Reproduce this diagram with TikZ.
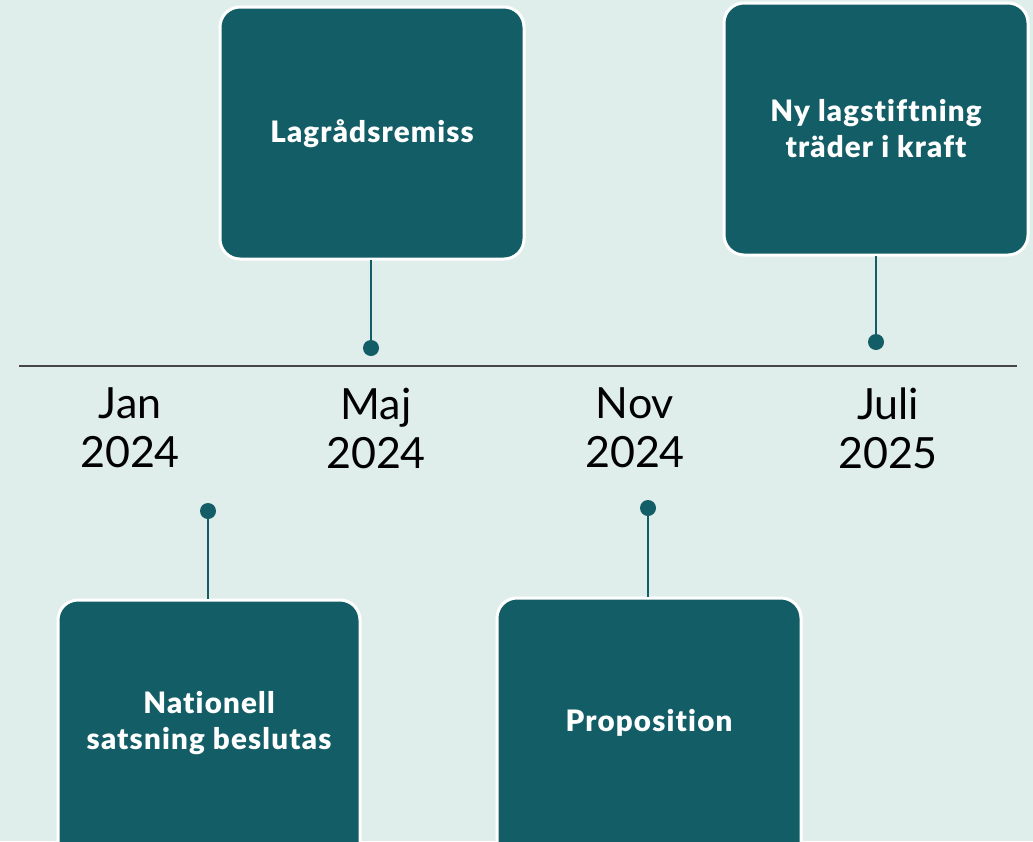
\documentclass[tikz,border=0pt]{standalone}
\usepackage{fontspec}
\setmainfont{Lato}
\newfontfamily\heavyfont{Lato Black}[Ligatures=NoCommon,LetterSpace=4]
\definecolor{bg}{RGB}{223,238,235}
\definecolor{teal}{RGB}{19,94,102}
\definecolor{axis}{RGB}{70,70,70}
\begin{document}
\begin{tikzpicture}[x=1pt,y=-1pt,
  evbox/.style={draw=white,line width=3pt,fill=teal,rounded corners=20pt},
  evtext/.style={text=white,font=\fontsize{29.5}{36}\selectfont\heavyfont,align=center},
  datelbl/.style={font=\fontsize{43}{49}\selectfont,align=center,text=black},
  conn/.style={draw=teal,line width=2.5pt},
  dotc/.style={fill=teal}]
\fill[bg] (0,0) rectangle (1033,841);
\useasboundingbox (0,0) rectangle (1033,841);
% axis
\coordinate (axL) at (19,366);
\coordinate (axR) at (1017,366);
\draw[axis,line width=1.3pt] (axL) -- (axR);
% boxes
\draw[evbox] (220,7) rectangle (524,259);
\node[evtext] (lag) at (372,134) {Lagrådsremiss};
\draw[evbox] (724,3) rectangle (1028,255);
\node[evtext] (ny) at (876,129) {Ny lagstiftning\\träder i kraft};
\draw[evbox] (58,600) rectangle (360,870);
\node[evtext] (nat) at (209,723) {Nationell\\satsning beslutas};
\draw[evbox] (497,598) rectangle (801,870);
\node[evtext] (prop) at (649,723) {Proposition};
% connector anchors
\coordinate (lagT) at (371,260);
\coordinate (lagD) at (371,348);
\coordinate (nyT) at (876,256);
\coordinate (nyD) at (876,342);
\coordinate (natT) at (208,599);
\coordinate (natD) at (208,511);
\coordinate (propT) at (648,597);
\coordinate (propD) at (648,508);
\draw[conn] (lagT) -- (lagD);
\draw[conn] (nyT) -- (nyD);
\draw[conn] (natT) -- (natD);
\draw[conn] (propT) -- (propD);
\fill[dotc] (lagD) circle (8);
\fill[dotc] (nyD) circle (8);
\fill[dotc] (natD) circle (8);
\fill[dotc] (propD) circle (8);
% dates
\node[datelbl] (d1) at (130,428) {Jan\\2024};
\node[datelbl] (d2) at (376,428) {Maj\\2024};
\node[datelbl] (d3) at (635,428) {Nov\\2024};
\node[datelbl] (d4) at (888,428) {Juli\\2025};
\end{tikzpicture}
\end{document}
